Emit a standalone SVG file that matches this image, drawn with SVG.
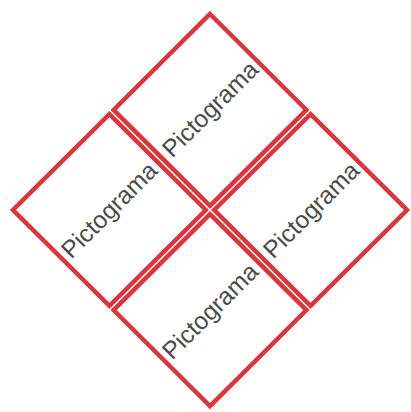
<svg xmlns="http://www.w3.org/2000/svg" width="411" height="412" viewBox="0 0 411 412">
<style>
.box{fill:#fff;stroke:#d8373d;stroke-width:4.5;stroke-linejoin:miter}
.lbl{font-family:"Liberation Sans",Arial,sans-serif;font-size:24.5px;fill:#4a4a4a;text-anchor:middle;dominant-baseline:central}
</style>
<rect width="411" height="412" fill="#fff"/>
<g id="top">
<polygon class="box" points="210,14 306.4,109.9 210,205.8 113.6,109.9"/>
<text class="lbl" transform="translate(210,109) rotate(-45)">Pictograma</text>
</g>
<g id="left">
<polygon class="box" points="109.4,114.1 205.8,210 109.4,305.9 13,210"/>
<text class="lbl" transform="translate(109,210) rotate(-45)">Pictograma</text>
</g>
<g id="right">
<polygon class="box" points="310.6,114.1 407,210 310.6,305.9 214.2,210"/>
<text class="lbl" transform="translate(311,210) rotate(-45)">Pictograma</text>
</g>
<g id="bottom">
<polygon class="box" points="210,214.2 306.4,310.1 210,406 113.6,310.1"/>
<text class="lbl" transform="translate(210,311) rotate(-45)">Pictograma</text>
</g>
<g id="connectors"></g>
</svg>
